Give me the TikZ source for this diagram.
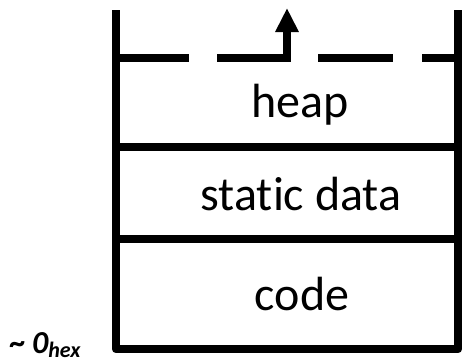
\documentclass[tikz,border=0pt]{standalone}
\usepackage{fontspec}
\setmainfont{Carlito}[Ligatures=NoCommon]
\usetikzlibrary{arrows.meta}
\begin{document}
\begin{tikzpicture}[x=1pt,y=-1pt,
  wall/.style={line width=8.5pt},
  lbl/.style={font=\fontsize{48}{48}\selectfont, anchor=base, inner sep=0pt},
  baselbl/.style={font=\fontsize{32}{32}\selectfont\bfseries\itshape, anchor=base west, inner sep=0pt}]
\useasboundingbox (0,0) rectangle (462,362);
\node[lbl] (heap) at (300,117) {heap};
\node[lbl] (static) at (301,210) {static data};
\node[lbl] (code) at (302,310) {code};
\node[baselbl] (base) at (10,353) {\textasciitilde\hspace{6pt}0\raisebox{-4pt}{\fontsize{22}{22}\selectfont hex}};
\coordinate (tl) at (116,10);
\coordinate (bl) at (116,349);
\coordinate (br) at (458,349);
\coordinate (tr) at (458,10);
\draw[wall, line join=round] (tl) -- (bl) -- (br) -- (tr);
\draw[wall] (116,147) -- (458,147);
\draw[wall] (116,239) -- (458,239);
\draw[wall] (116,58) -- (189,58);
\draw[wall] (318,58) -- (393,58);
\draw[wall] (422,58) -- (458,58);
\draw[wall, -{Triangle[width=22pt,length=24pt]}] (217,58) -- (287,58) -- (287,8);
\end{tikzpicture}
\end{document}
